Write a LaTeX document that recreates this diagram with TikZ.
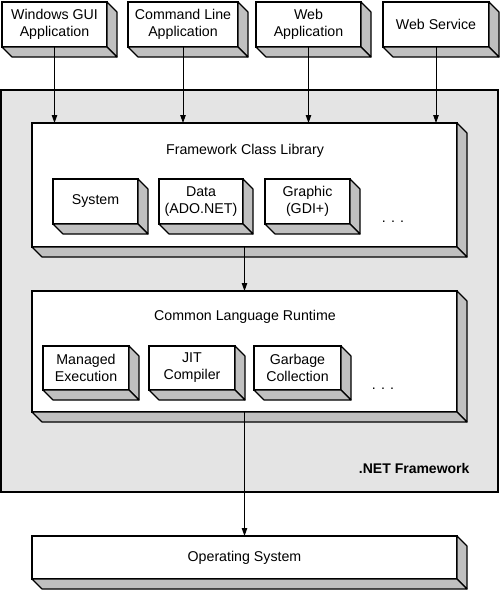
\documentclass[tikz,border=0pt]{standalone}
\usepackage{fontspec}
\setmainfont{Liberation Sans}
\usetikzlibrary{arrows.meta}
\definecolor{backgray}{RGB}{228,228,228}
\definecolor{sidegray}{RGB}{192,192,192}

\begin{document}
\begin{tikzpicture}[x=1pt, y=-1pt, >={Triangle[length=8pt,width=5.5pt]},
    font=\fontsize{14.2}{17}\selectfont,
    box/.style={draw, fill=white, line width=1.1pt, outer sep=0pt, inner sep=0pt, align=center, anchor=north west},
    side/.style={draw, fill=sidegray, line width=1.1pt, line join=round},
    link/.style={->, line width=0.9pt}]
    \useasboundingbox (0,0) rectangle (500,592);

    % .NET Framework 背景
    \node[box, fill=backgray, minimum width=497pt, minimum height=402pt] (net) at (1,90) {};
    \node[anchor=east, font=\fontsize{14}{17}\selectfont\bfseries] (netlabel) at (473,468) {.NET Framework};

    % 顶部的应用程序
    \foreach \n/\x/\w/\t in {win/2/105/{Windows GUI\\Application}, cmd/128/110/{Command Line\\Application},
        web/256/105/{Web\\Application}, svc/383/106/{Web Service}} {
        \node[box, minimum width=\w pt, minimum height=45pt] (\n) at (\x,2) {\t};
    }

    % Framework Class Library
    \node[box, minimum width=425pt, minimum height=124pt] (fcl) at (32,123) {};
    \node (fcltitle) at (245,151) {Framework Class Library};
    \node[box, minimum width=85pt, minimum height=45pt] (sys) at (53,179) {System};
    \node[box, minimum width=84pt, minimum height=45pt] (data) at (159,179) {Data\\(ADO.NET)};
    \node[box, minimum width=85pt, minimum height=45pt] (gdi) at (265,179) {Graphic\\(GDI+)};
    \node (fcldots) at (393,222) {. . .};

    % Common Language Runtime
    \node[box, minimum width=425pt, minimum height=121pt] (clr) at (32,291) {};
    \node (clrtitle) at (245,317) {Common Language Runtime};
    \node[box, minimum width=86pt, minimum height=44pt] (mex) at (43,346) {Managed\\Execution};
    \node[box, minimum width=86pt, minimum height=44pt] (jit) at (149,346) {JIT\\Compiler};
    \node[box, minimum width=87pt, minimum height=44pt] (gc) at (254,346) {Garbage\\Collection};
    \node (clrdots) at (383,389) {. . .};

    % Operating System
    \node[box, minimum width=425pt, minimum height=43pt] (os) at (32,536) {Operating System};

    % 立体侧面
    \foreach \n in {win,cmd,web,svc,fcl,sys,data,gdi,clr,mex,jit,gc,os} {
        \draw[side] (\n.north east) -- ++(10,10) -- ([shift={(10,10)}]\n.south east) -- (\n.south east) -- cycle;
        \draw[side] (\n.south west) -- ++(10,10) -- ([shift={(10,10)}]\n.south east) -- (\n.south east) -- cycle;
    }

    % 箭头
    \foreach \n in {win,cmd,web,svc} {
        \draw[link] (\n.south) -- (\n.south |- fcl.north);
    }
    \draw[link] (fcl.south) -- (clr.north);
    \draw[link] (clr.south) -- (os.north);
\end{tikzpicture}
\end{document}
